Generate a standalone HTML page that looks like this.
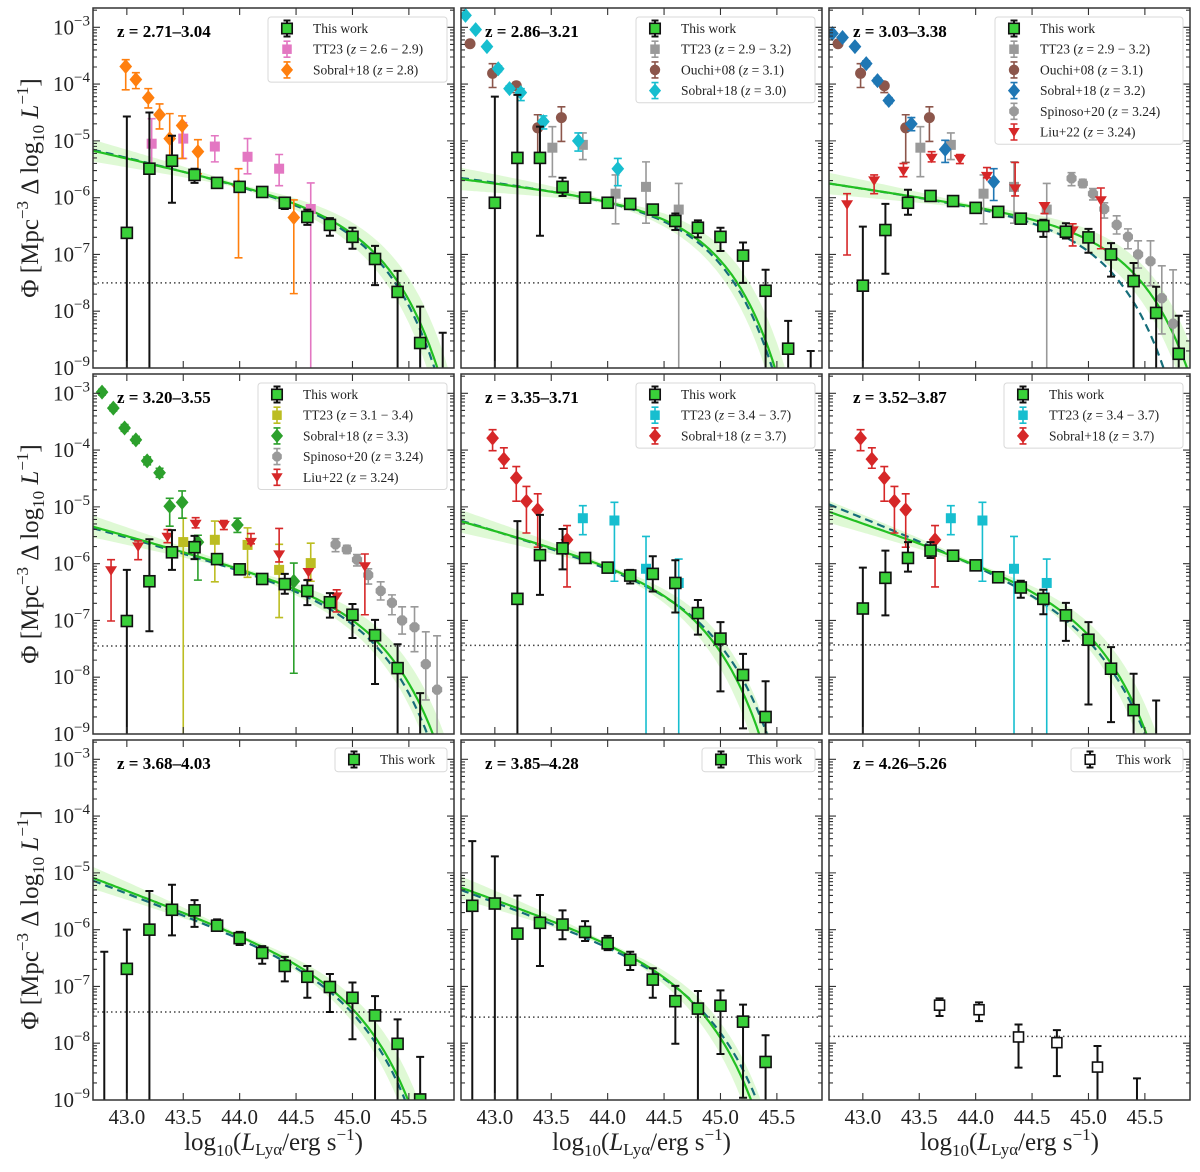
<!DOCTYPE html>
<html><head><meta charset="utf-8"><style>
html,body{margin:0;padding:0;background:#fff;width:1200px;height:1172px;overflow:hidden;}
body{display:block;}
svg{display:block;font-family:"Liberation Serif",serif;}
</style></head><body>
<svg id="chart" xmlns="http://www.w3.org/2000/svg" width="1200" height="1172" viewBox="0 0 1200 1172" overflow="hidden"></svg>
<script>
// ---------- DATA (log10 values; -10 = error bar extends below axis; null = no marker) ----------
const xStep15 = [43.0,43.2,43.4,43.6,43.8,44.0,44.2,44.4,44.6,44.8,45.0,45.2,45.4,45.6,45.8];
const p1Y  = [-6.62,-5.49,-5.35,-5.60,-5.74,-5.81,-5.90,-6.09,-6.34,-6.48,-6.69,-7.08,-7.66,-8.56,null];
const p1Hi = [-4.57,-4.50,-4.91,-5.49,-5.71,-5.78,-5.87,-6.03,-6.21,-6.36,-6.53,-6.85,-7.29,-7.92,-8.38];
const p1Lo = [-10,-10,-6.09,-5.74,-5.77,-5.84,-5.93,-6.20,-6.48,-6.67,-6.90,-7.54,-10,-10,-10];
const tt23aX = [43.22,43.5,43.78,44.07,44.35,44.63];
const tt23aY = [-5.05,-4.96,-5.10,-5.28,-5.49,-6.20];
const tt23aHi = [-4.61,-4.68,-4.91,-4.96,-5.24,-5.74];
const tt23aLo = [-5.58,-5.31,-5.37,-5.58,-5.79,-10];
const sob28X = [42.99,43.08,43.19,43.29,43.38,43.49,43.63,43.99,44.48];
const sob28Y = [-3.69,-3.92,-4.24,-4.54,-4.96,-4.73,-5.19,-5.80,-6.35];
const sob28Hi = [-3.57,-3.80,-4.08,-4.35,-4.52,-4.56,-4.98,-5.49,-6.04];
const sob28Lo = [-4.10,-4.08,-4.42,-4.79,-5.35,-5.31,-5.58,-7.06,-7.69];

const p2Y  = [-6.09,-5.30,-5.30,-5.81,-6.00,-6.09,-6.11,-6.21,-6.41,-6.53,-6.69,-7.02,-7.64,-8.66,null];
const p2Hi = [-4.22,-4.19,-4.75,-5.65,-5.96,-6.03,-6.07,-6.16,-6.28,-6.40,-6.53,-6.79,-7.27,-8.17,-8.70];
const p2Lo = [-10,-10,-6.67,-5.97,-6.04,-6.15,-6.15,-6.26,-6.57,-6.70,-6.94,-7.50,-10,-10,-10];
const tt23bX = [43.51,43.78,44.07,44.34,44.63];
const tt23bY = [-5.12,-5.07,-5.93,-5.81,-6.21];
const tt23bHi = [-4.75,-4.86,-5.60,-5.37,-5.75];
const tt23bLo = [-5.63,-5.33,-6.46,-6.45,-10];
const ouchiX = [42.78,42.98,43.19,43.38,43.59];
const ouchiY = [-3.29,-3.81,-4.03,-4.77,-4.59];
const ouchiHi = [-3.24,-3.64,-3.97,-4.54,-4.40];
const ouchiLo = [-3.34,-4.06,-4.15,-5.38,-5.01];
const sob30X = [42.74,42.83,42.93,43.03,43.13,43.23,43.43,43.74,44.09];
const sob30Y = [-2.79,-3.04,-3.34,-3.73,-4.08,-4.15,-4.66,-5.00,-5.49];
const sob30Hi = [-2.76,-3.00,-3.30,-3.68,-4.03,-4.08,-4.56,-4.86,-5.31];
const sob30Lo = [-2.82,-3.08,-3.38,-3.78,-4.12,-4.29,-4.79,-5.18,-5.79];

const p3Y  = [-7.55,-6.57,-6.09,-5.97,-6.06,-6.18,-6.25,-6.37,-6.50,-6.60,-6.70,-7.00,-7.47,-8.03,-8.75];
const p3Hi = [-6.51,-6.11,-5.86,-5.92,-6.02,-6.13,-6.20,-6.32,-6.39,-6.45,-6.55,-6.80,-7.15,-7.57,-8.08];
const p3Lo = [-10,-7.34,-6.30,-6.02,-6.10,-6.23,-6.30,-6.42,-6.69,-6.72,-6.97,-7.39,-10,-10,-10];
const sob32X = [42.73,42.82,42.93,43.03,43.13,43.23,43.43,43.73,44.16];
const sob32Y = [-3.11,-3.18,-3.34,-3.64,-3.94,-4.29,-4.70,-5.15,-5.72];
const sob32Hi = [-3.07,-3.14,-3.30,-3.59,-3.89,-4.24,-4.59,-4.99,-5.49];
const sob32Lo = [-3.15,-3.22,-3.38,-3.69,-3.99,-4.34,-4.82,-5.38,-6.05];
const spinX = [44.85,44.95,45.04,45.14,45.25,45.35,45.44,45.55,45.65,45.75];
const spinY = [-5.66,-5.75,-5.93,-6.20,-6.48,-6.69,-7.00,-7.12,-7.77,-8.22];
const spinHi = [-5.56,-5.68,-5.84,-6.09,-6.32,-6.55,-6.76,-6.76,-7.20,-7.27];
const spinLo = [-5.79,-5.82,-6.04,-6.36,-6.64,-6.90,-7.24,-7.55,-8.40,-10];
const liuX = [42.86,43.10,43.36,43.61,43.86,44.10,44.35,44.61,44.86,45.11];
const liuY = [-6.12,-5.70,-5.53,-5.30,-5.32,-5.62,-5.84,-6.15,-6.58,-6.05];
const liuHi = [-5.93,-5.60,-5.40,-5.19,-5.24,-5.47,-5.38,-6.09,-6.46,-5.83];
const liuLo = [-7.01,-5.93,-5.63,-5.37,-5.40,-5.65,-5.97,-6.28,-6.85,-6.90];

const xStep14 = [43.0,43.2,43.4,43.6,43.8,44.0,44.2,44.4,44.6,44.8,45.0,45.2,45.4,45.6];
const p4Y  = [-7.01,-6.31,-5.80,-5.71,-5.92,-6.10,-6.27,-6.36,-6.48,-6.68,-6.90,-7.26,-7.84,null];
const p4Hi = [-6.11,-5.57,-5.41,-5.51,-5.87,-6.03,-6.20,-6.18,-6.29,-6.52,-6.71,-6.99,-7.42,-8.28];
const p4Lo = [-10,-7.19,-6.11,-5.92,-5.97,-6.17,-6.34,-6.53,-6.73,-6.95,-7.31,-8.12,-10,-10];
const tt23cX = [43.5,43.78,44.07,44.35,44.63];
const tt23cY = [-5.62,-5.58,-5.67,-6.11,-5.99];
const tt23cHi = [-5.20,-5.25,-5.37,-5.66,-5.64];
const tt23cLo = [-10,-6.32,-6.24,-6.95,-6.31];
const sob33X = [42.78,42.88,42.98,43.08,43.18,43.29,43.38,43.49,43.63,43.98,44.48];
const sob33Y = [-2.98,-3.26,-3.61,-3.82,-4.19,-4.40,-4.99,-4.92,-5.62,-5.32,-6.31];
const sob33Hi = [-2.93,-3.21,-3.55,-3.76,-4.12,-4.32,-4.85,-4.72,-5.50,-5.20,-5.99];
const sob33Lo = [-3.03,-3.31,-3.67,-3.88,-4.26,-4.48,-5.34,-5.20,-6.29,-5.45,-7.93];

const xStep12 = [43.2,43.4,43.6,43.8,44.0,44.2,44.4,44.6,44.8,45.0,45.2,45.4];
const p5Y  = [-6.62,-5.85,-5.73,-5.90,-6.07,-6.21,-6.18,-6.34,-6.87,-7.32,-7.96,-8.70];
const p5Hi = [-5.25,-5.14,-5.39,-5.86,-6.02,-6.11,-5.87,-5.94,-6.64,-7.03,-7.59,-8.07];
const p5Lo = [-10,-6.55,-6.10,-5.94,-6.12,-6.35,-6.49,-6.86,-7.25,-8.25,-8.90,-10];
const tt23dX = [43.78,44.06,44.34,44.63];
const tt23dY = [-5.20,-5.24,-6.09,-6.34];
const tt23dHi = [-4.98,-4.92,-5.52,-5.92];
const tt23dLo = [-5.49,-6.31,-10,-10];
const sob37X = [42.98,43.08,43.19,43.28,43.38,43.64];
const sob37Y = [-3.79,-4.16,-4.49,-4.90,-5.05,-5.58];
const sob37Hi = [-3.64,-3.96,-4.29,-4.64,-4.77,-5.33];
const sob37Lo = [-4.01,-4.32,-4.90,-5.46,-5.71,-6.41];

const p6Y  = [-6.79,-6.25,-5.90,-5.77,-5.86,-6.03,-6.24,-6.42,-6.62,-6.91,-7.34,-7.85,-8.58,null];
const p6Hi = [-6.07,-5.77,-5.62,-5.62,-5.82,-5.98,-6.19,-6.30,-6.46,-6.69,-7.03,-7.47,-7.94,-8.41];
const p6Lo = [-10,-6.91,-6.14,-5.90,-5.90,-6.08,-6.29,-6.60,-6.89,-7.36,-8.48,-8.79,-10,-10];

const xFrom428 = [42.8,43.0,43.2,43.4,43.6,43.8,44.0,44.2,44.4,44.6,44.8,45.0,45.2,45.4,45.6];
const p7Y  = [null,-6.69,-6.00,-5.65,-5.66,-5.93,-6.15,-6.41,-6.64,-6.83,-7.01,-7.20,-7.51,-8.01,-8.99];
const p7Hi = [-6.39,-6.00,-5.32,-5.21,-5.48,-5.82,-6.04,-6.29,-6.48,-6.64,-6.78,-6.93,-7.17,-7.58,-8.24];
const p7Lo = [-10,-10,-10,-6.10,-5.95,-6.00,-6.27,-6.60,-6.91,-7.20,-7.45,-7.93,-10,-10,-10];
const xFrom428b = [42.8,43.0,43.2,43.4,43.6,43.8,44.0,44.2,44.4,44.6,44.8,45.0,45.2,45.4];
const p8Y  = [-5.58,-5.54,-6.07,-5.88,-5.91,-6.04,-6.24,-6.53,-6.88,-7.26,-7.39,-7.34,-7.62,-8.33];
const p8Hi = [-4.44,-4.71,-5.40,-5.39,-5.66,-5.85,-6.11,-6.39,-6.68,-6.99,-7.08,-7.07,-7.32,-7.86];
const p8Lo = [-10,-10,-10,-6.64,-6.17,-6.20,-6.36,-6.71,-7.20,-8.01,-10,-8.19,-8.96,-10];
const p9X  = [43.68,44.03,44.38,44.72,45.08,45.43];
const p9Y  = [-7.33,-7.41,-7.89,-7.99,-8.42,null];
const p9Hi = [-7.21,-7.28,-7.67,-7.77,-8.05,-8.62];
const p9Lo = [-7.52,-7.61,-8.43,-8.58,-10,-10];

// Schechter fit params per panel: alpha, log L*, log Phi at L=1e44
const fitAlpha  = [-1.45,-1.25,-1.30,-1.55,-1.55,-1.68,-1.75,-1.70];
const fitLstar  = [45.00,44.70,45.15,45.05,44.62,44.85,44.87,44.62];
const fitAnchor = [-5.80,-6.08,-6.17,-6.10,-6.07,-6.03,-6.12,-6.27];
const dashAlpha  = [-1.47,-1.27,-1.30,-1.55,-1.60,-1.80,-1.75,-1.72];
const dashLstar  = [44.98,44.68,44.93,45.00,44.72,44.88,44.85,44.70];
const dashAnchor = [-5.81,-6.09,-6.19,-6.13,-6.10,-6.05,-6.17,-6.32];
const limitLine = [-7.50,-7.50,-7.50,-7.45,-7.44,-7.43,-7.45,-7.54,-7.88];
const zTitles = ["z = 2.71–3.04","z = 2.86–3.21","z = 3.03–3.38","z = 3.20–3.55","z = 3.35–3.71","z = 3.52–3.87","z = 3.68–4.03","z = 3.85–4.28","z = 4.26–5.26"];
const yTickExp = [-3,-4,-5,-6,-7,-8,-9];
const xTickVals = [43.0,43.5,44.0,44.5,45.0,45.5];

// ---------- LAYOUT ----------
const X0=42.7,X1=45.9,Y0=-9,Y1=-2.66;
const colL=[93,461,829], rowT=[8,374,740], PW=361, PH=360;
const NS="http://www.w3.org/2000/svg";
const svg=document.getElementById('chart');
function sx(p,v){return colL[p%3]+(v-X0)/(X1-X0)*PW;}
function sy(p,v){const t=rowT[Math.floor(p/3)];return t+PH-(v-Y0)/(Y1-Y0)*PH;}
function mk(tag,attrs,parent){const e=document.createElementNS(NS,tag);for(const k in attrs)e.setAttribute(k,attrs[k]);(parent||svg).appendChild(e);return e;}

const STY={
 tw:{shape:'square',fill:'#3ad13a',stroke:'#111',ec:'#111',size:11,lw:2},
 twOpen:{shape:'square',fill:'#fff',stroke:'#111',ec:'#111',size:10,lw:2},
 tt23pink:{shape:'square',fill:'#e377c2',stroke:'none',ec:'#e377c2',size:10,lw:1.6},
 tt23gray:{shape:'square',fill:'#999',stroke:'none',ec:'#999',size:10,lw:1.6},
 tt23olive:{shape:'square',fill:'#bcbd22',stroke:'none',ec:'#bcbd22',size:10,lw:1.6},
 tt23cyan:{shape:'square',fill:'#17becf',stroke:'none',ec:'#17becf',size:10,lw:1.6},
 sobOrange:{shape:'diamond',fill:'#ff7f0e',stroke:'none',ec:'#ff7f0e',size:15,lw:1.6},
 sobCyan:{shape:'diamond',fill:'#17becf',stroke:'none',ec:'#17becf',size:15,lw:1.6},
 sobBlue:{shape:'diamond',fill:'#1f77b4',stroke:'none',ec:'#1f77b4',size:15,lw:1.6},
 sobGreen:{shape:'diamond',fill:'#2ca02c',stroke:'none',ec:'#2ca02c',size:15,lw:1.6},
 sobRed:{shape:'diamond',fill:'#d62728',stroke:'none',ec:'#d62728',size:15,lw:1.6},
 ouchi:{shape:'circle',fill:'#8c564b',stroke:'none',ec:'#8c564b',size:11,lw:1.6},
 spin:{shape:'octagon',fill:'#999',stroke:'none',ec:'#999',size:11,lw:1.6},
 liu:{shape:'tri',fill:'#d62728',stroke:'none',ec:'#d62728',size:12,lw:1.6}
};
const I='<tspan font-style="italic">z</tspan>';
const panels=[
 {legend:[268,17,179],series:[
   {n:'this-work',s:'tw',x:xStep15,y:p1Y,hi:p1Hi,lo:p1Lo,label:'This work'},
   {n:'tt23',s:'tt23pink',x:tt23aX,y:tt23aY,hi:tt23aHi,lo:tt23aLo,label:'TT23 ('+I+' = 2.6 − 2.9)'},
   {n:'sobral18',s:'sobOrange',x:sob28X,y:sob28Y,hi:sob28Hi,lo:sob28Lo,label:'Sobral+18 ('+I+' = 2.8)'}]},
 {legend:[636,17,179],series:[
   {n:'this-work',s:'tw',x:xStep15,y:p2Y,hi:p2Hi,lo:p2Lo,label:'This work'},
   {n:'tt23',s:'tt23gray',x:tt23bX,y:tt23bY,hi:tt23bHi,lo:tt23bLo,label:'TT23 ('+I+' = 2.9 − 3.2)'},
   {n:'ouchi08',s:'ouchi',x:ouchiX,y:ouchiY,hi:ouchiHi,lo:ouchiLo,label:'Ouchi+08 ('+I+' = 3.1)'},
   {n:'sobral18',s:'sobCyan',x:sob30X,y:sob30Y,hi:sob30Hi,lo:sob30Lo,label:'Sobral+18 ('+I+' = 3.0)'}]},
 {legend:[995,17,188],series:[
   {n:'this-work',s:'tw',x:xStep15,y:p3Y,hi:p3Hi,lo:p3Lo,label:'This work'},
   {n:'tt23',s:'tt23gray',x:tt23bX,y:tt23bY,hi:tt23bHi,lo:tt23bLo,label:'TT23 ('+I+' = 2.9 − 3.2)'},
   {n:'ouchi08',s:'ouchi',x:ouchiX,y:ouchiY,hi:ouchiHi,lo:ouchiLo,label:'Ouchi+08 ('+I+' = 3.1)'},
   {n:'sobral18',s:'sobBlue',x:sob32X,y:sob32Y,hi:sob32Hi,lo:sob32Lo,label:'Sobral+18 ('+I+' = 3.2)'},
   {n:'spinoso20',s:'spin',x:spinX,y:spinY,hi:spinHi,lo:spinLo,label:'Spinoso+20 ('+I+' = 3.24)'},
   {n:'liu22',s:'liu',x:liuX,y:liuY,hi:liuHi,lo:liuLo,label:'Liu+22 ('+I+' = 3.24)'}]},
 {legend:[258,383,189],series:[
   {n:'this-work',s:'tw',x:xStep14,y:p4Y,hi:p4Hi,lo:p4Lo,label:'This work'},
   {n:'tt23',s:'tt23olive',x:tt23cX,y:tt23cY,hi:tt23cHi,lo:tt23cLo,label:'TT23 ('+I+' = 3.1 − 3.4)'},
   {n:'sobral18',s:'sobGreen',x:sob33X,y:sob33Y,hi:sob33Hi,lo:sob33Lo,label:'Sobral+18 ('+I+' = 3.3)'},
   {n:'spinoso20',s:'spin',x:spinX,y:spinY,hi:spinHi,lo:spinLo,label:'Spinoso+20 ('+I+' = 3.24)'},
   {n:'liu22',s:'liu',x:liuX,y:liuY,hi:liuHi,lo:liuLo,label:'Liu+22 ('+I+' = 3.24)'}]},
 {legend:[636,383,179],series:[
   {n:'this-work',s:'tw',x:xStep12,y:p5Y,hi:p5Hi,lo:p5Lo,label:'This work'},
   {n:'tt23',s:'tt23cyan',x:tt23dX,y:tt23dY,hi:tt23dHi,lo:tt23dLo,label:'TT23 ('+I+' = 3.4 − 3.7)'},
   {n:'sobral18',s:'sobRed',x:sob37X,y:sob37Y,hi:sob37Hi,lo:sob37Lo,label:'Sobral+18 ('+I+' = 3.7)'}]},
 {legend:[1004,383,179],series:[
   {n:'this-work',s:'tw',x:xStep14,y:p6Y,hi:p6Hi,lo:p6Lo,label:'This work'},
   {n:'tt23',s:'tt23cyan',x:tt23dX,y:tt23dY,hi:tt23dHi,lo:tt23dLo,label:'TT23 ('+I+' = 3.4 − 3.7)'},
   {n:'sobral18',s:'sobRed',x:sob37X,y:sob37Y,hi:sob37Hi,lo:sob37Lo,label:'Sobral+18 ('+I+' = 3.7)'}]},
 {legend:[335,748,112],series:[
   {n:'this-work',s:'tw',x:xFrom428,y:p7Y,hi:p7Hi,lo:p7Lo,label:'This work'}]},
 {legend:[702,748,113],series:[
   {n:'this-work',s:'tw',x:xFrom428b,y:p8Y,hi:p8Hi,lo:p8Lo,label:'This work'}]},
 {legend:[1071,748,112],series:[
   {n:'this-work',s:'twOpen',x:p9X,y:p9Y,hi:p9Hi,lo:p9Lo,label:'This work'}]}
];

function schech(a,ls,anc,x){const L=Math.LOG10E;return anc+(a+1)*(x-44)-(Math.pow(10,x-ls)-Math.pow(10,44-ls))*L;}

function marker(g,st,cx,cy,scale){
  const s=st.size*(scale||1), h=s/2; let e;
  if(st.shape==='square') e=mk('rect',{x:cx-h,y:cy-h,width:s,height:s,fill:st.fill,stroke:st.stroke,'stroke-width':1.6},g);
  else if(st.shape==='diamond') e=mk('polygon',{points:`${cx},${cy-h} ${cx+h*0.85},${cy} ${cx},${cy+h} ${cx-h*0.85},${cy}`,fill:st.fill},g);
  else if(st.shape==='circle') e=mk('circle',{cx:cx,cy:cy,r:h,fill:st.fill},g);
  else if(st.shape==='octagon'){let p=[];for(let k=0;k<8;k++){const t=Math.PI/8+k*Math.PI/4;p.push((cx+h*Math.cos(t)).toFixed(1)+','+(cy+h*Math.sin(t)).toFixed(1));}e=mk('polygon',{points:p.join(' '),fill:st.fill},g);}
  else e=mk('polygon',{points:`${cx-h},${cy-h*0.7} ${cx+h},${cy-h*0.7} ${cx},${cy+h*0.9}`,fill:st.fill},g);
  return e;
}

const defs=mk('defs',{});
for(let p=0;p<9;p++){const cp=mk('clipPath',{id:'clip'+p},defs);mk('rect',{x:colL[p%3],y:rowT[Math.floor(p/3)],width:PW,height:PH},cp);}

for(let p=0;p<9;p++){
  const L=colL[p%3],T=rowT[Math.floor(p/3)];
  const pg=mk('g',{});
  
  
  const plot=mk('g',{'clip-path':'url(#clip'+p+')'},pg);
  
  
  if(p<8){
    let up=[],dn=[],sol=[],das=[];
    for(let x=X0;x<=X1+1e-9;x+=0.02){
      let vals=[];
      for(const da of [-0.12,0,0.12])for(const dl of [-0.06,0,0.06])vals.push(schech(fitAlpha[p]+da,fitLstar[p]+dl,fitAnchor[p],x));
      up.push([sx(p,x),sy(p,Math.max(...vals)+0.03)]);dn.push([sx(p,x),sy(p,Math.min(...vals)-0.03)]);
      sol.push(sx(p,x).toFixed(1)+','+sy(p,schech(fitAlpha[p],fitLstar[p],fitAnchor[p],x)).toFixed(1));
      das.push(sx(p,x).toFixed(1)+','+sy(p,schech(dashAlpha[p],dashLstar[p],dashAnchor[p],x)).toFixed(1));
    }
    const pts=up.concat(dn.reverse()).map(q=>q[0].toFixed(1)+','+q[1].toFixed(1)).join(' ');
    const band=mk('polygon',{points:pts,fill:'#dcf8d0',opacity:0.9},plot);
    
    
    const dl=mk('polyline',{points:das.join(' '),fill:'none',stroke:'#166e7a','stroke-width':2.2,'stroke-dasharray':'8,5'},plot);
    
    
    const sl=mk('polyline',{points:sol.join(' '),fill:'none',stroke:'#22c022','stroke-width':2.2},plot);
    
    
  }
  const ll=mk('line',{x1:L,x2:L+PW,y1:sy(p,limitLine[p]),y2:sy(p,limitLine[p]),stroke:'#444','stroke-width':1.5,'stroke-dasharray':'1.5,3'},plot);
  
  
  const order=panels[p].series.slice(1).concat([panels[p].series[0]]);
  for(const se of order){
    const st=STY[se.s];
    const sg=mk('g',{},plot);
    
    
    for(let i=0;i<se.x.length;i++){
      const cx=sx(p,se.x[i]);
      const yh=sy(p,se.hi[i]),yl=sy(p,Math.max(se.lo[i],-9.6));
      const eb=mk('path',{d:`M${cx},${yh}V${yl}M${cx-4},${yh}H${cx+4}`+(se.lo[i]>-9.5?`M${cx-4},${yl}H${cx+4}`:''),stroke:st.ec,'stroke-width':st.lw,fill:'none'},sg);
      
      
      if(se.y[i]!==null){
        const m=marker(sg,st,cx,sy(p,se.y[i]));
        
        
      }
    }
  }
  const fr=mk('rect',{x:L,y:T,width:PW,height:PH,fill:'none',stroke:'#333','stroke-width':1.5},pg);
  
  
  let d='';
  for(let e=-9;e<=-3;e++){
    const y=sy(p,e);d+=`M${L},${y}h7M${L+PW},${y}h-7`;
    for(let m=2;m<10;m++){const ym=sy(p,e+Math.log10(m));if(ym>T)d+=`M${L},${ym}h4M${L+PW},${ym}h-4`;}
  }
  for(const xv of xTickVals){const x=sx(p,xv);d+=`M${x},${T}v7M${x},${T+PH}v-7`;}
  const tk=mk('path',{d:d,stroke:'#333','stroke-width':1.1,fill:'none'},pg);
  
  
  const tt=mk('text',{x:L+24,y:T+29,'font-size':17,'font-weight':'bold'},pg);
  tt.textContent=zTitles[p];
  
  
  const [lx,ly,lw]=panels[p].legend, ser=panels[p].series, rh=20.7;
  const lg=mk('g',{},pg);
  
  
  mk('rect',{x:lx,y:ly,width:lw,height:ser.length*rh+3,rx:3,fill:'#fff','fill-opacity':0.85,stroke:'#d8d8d8','stroke-width':1},lg);
  ser.forEach((se,i)=>{
    const st=STY[se.s], cy=ly+11.5+i*rh, cx=lx+19;
    const en=mk('g',{},lg);
    
    
    mk('path',{d:`M${cx},${cy-8}V${cy+8}M${cx-3.5},${cy-8}H${cx+3.5}M${cx-3.5},${cy+8}H${cx+3.5}`,stroke:st.ec,'stroke-width':st.lw,fill:'none'},en);
    marker(en,st,cx,cy,0.95);
    const t=mk('text',{x:lx+45,y:cy+4.5,'font-size':13.5,fill:'#222'},en);
    t.innerHTML=se.label;
  });
  if(p%3===0){
    yTickExp.forEach(e=>{
      const t=mk('text',{x:90,y:sy(p,e)+7,'text-anchor':'end','font-size':21,fill:'#222'},svg);
      t.innerHTML='10<tspan dy="-9" font-size="15">−'+(-e)+'</tspan>';
      
      
    });
    const yl=mk('text',{x:0,y:0,'font-size':25,'text-anchor':'middle',fill:'#222',transform:`translate(38,${T+PH/2}) rotate(-90)`},svg);
    yl.innerHTML='Φ [Mpc<tspan dy="-10" font-size="17">−3</tspan><tspan dy="10"> Δ log</tspan><tspan dy="6" font-size="17">10</tspan><tspan dy="-6" font-style="italic"> L</tspan><tspan dy="-10" font-size="17">−1</tspan><tspan dy="10">]</tspan>';
    
    
  }
  if(p>=6){
    xTickVals.forEach(xv=>{
      const t=mk('text',{x:sx(p,xv),y:1124,'text-anchor':'middle','font-size':21,fill:'#222'},svg);
      t.textContent=xv.toFixed(1);
      
      
    });
    const xl=mk('text',{x:L+PW/2,y:1150,'text-anchor':'middle','font-size':25,fill:'#222'},svg);
    xl.innerHTML='log<tspan dy="6" font-size="17">10</tspan><tspan dy="-6">(</tspan><tspan font-style="italic">L</tspan><tspan dy="5" font-size="17">Lyα</tspan><tspan dy="-5">/erg s</tspan><tspan dy="-10" font-size="17">−1</tspan><tspan dy="10">)</tspan>';
    
    
  }
}
</script>
</body></html>
